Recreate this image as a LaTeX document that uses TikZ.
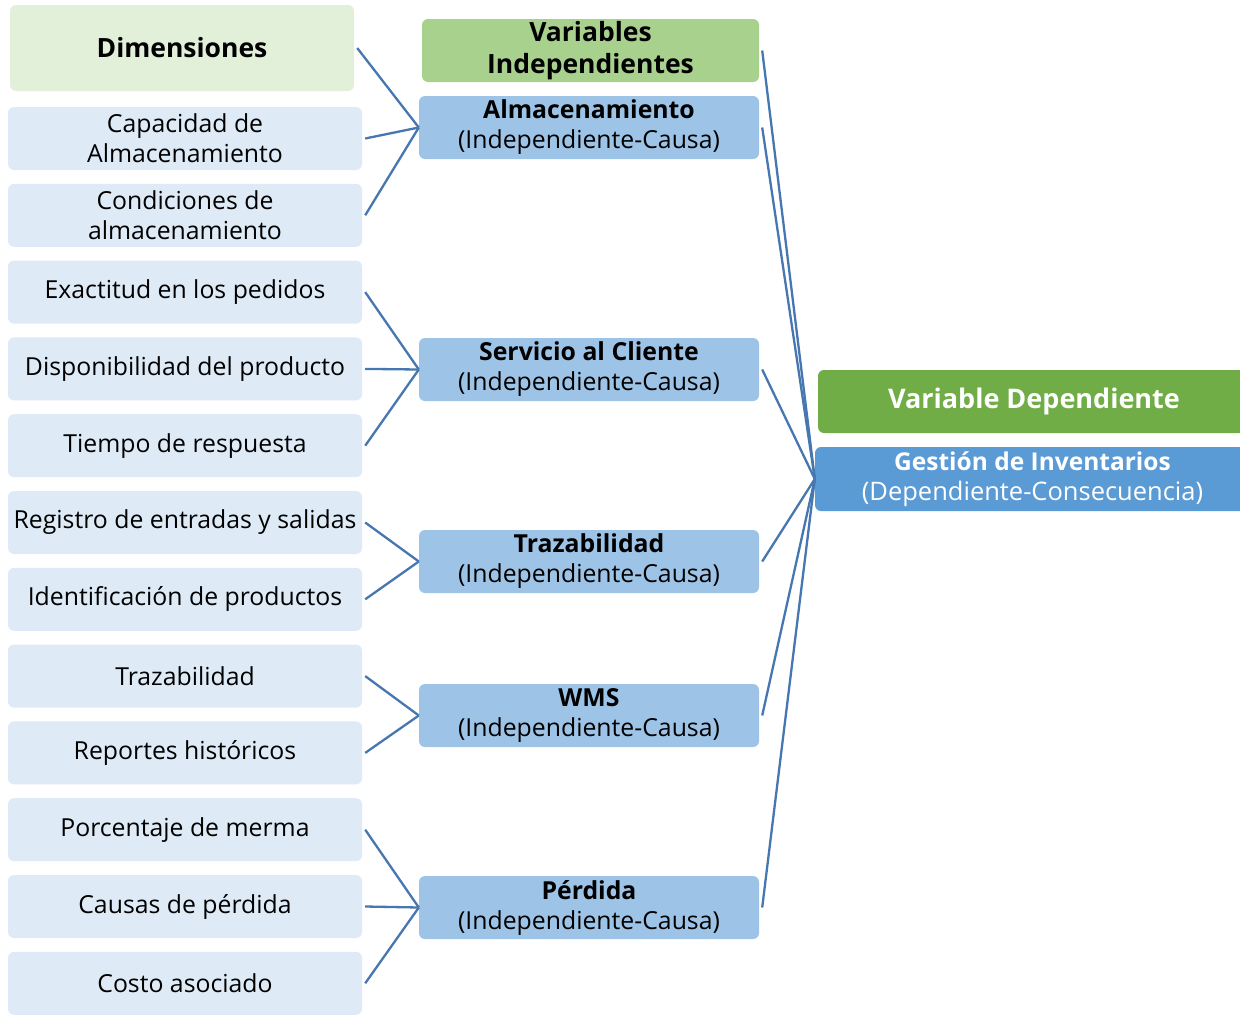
\documentclass[tikz,border=0pt]{standalone}
\usepackage{fontspec}
\setmainfont{Open Sans}
\definecolor{dimfill}{HTML}{DEEBF7}
\definecolor{dimhead}{HTML}{E2F0D9}
\definecolor{indfill}{HTML}{9DC3E6}
\definecolor{indhead}{HTML}{A9D18E}
\definecolor{dephead}{HTML}{70AD47}
\definecolor{depfill}{HTML}{5B9BD5}
\definecolor{link}{HTML}{4677B0}
\tikzset{
  box/.style={rounded corners=6pt, inner sep=0pt, align=center,
    font=\fontsize{24.8}{30}\selectfont},
  dimbox/.style={box, fill=dimfill, minimum width=354pt, minimum height=63pt},
  indbox/.style={box, fill=indfill, minimum width=340pt, minimum height=63pt},
  conn/.style={draw=link, line width=2.3pt}
}
\begin{document}
\begin{tikzpicture}[x=1pt,y=-1pt]
\clip (0,0) rectangle (1240,1015);
\fill[white] (0,0) rectangle (1240,1015);

% column of dimensions
\node[box, fill=dimhead, minimum width=344pt, minimum height=86pt, font=\fontsize{26.5}{30}\selectfont\bfseries] (dh) at (182,48) {Dimensiones};
\node[dimbox] (d1) at (185,138.5) {Capacidad de\\Almacenamiento};
\node[dimbox] (d2) at (185,215.3) {Condiciones de\\almacenamiento};
\node[dimbox] (d3) at (185,292.1) {Exactitud en los pedidos};
\node[dimbox] (d4) at (185,368.9) {Disponibilidad del producto};
\node[dimbox] (d5) at (185,445.7) {Tiempo de respuesta};
\node[dimbox] (d6) at (185,522.5) {Registro de entradas y salidas};
\node[dimbox] (d7) at (185,599.3) {Identificación de productos};
\node[dimbox] (d8) at (185,676.1) {Trazabilidad};
\node[dimbox] (d9) at (185,752.9) {Reportes históricos};
\node[dimbox] (d10) at (185,829.7) {Porcentaje de merma};
\node[dimbox] (d11) at (185,906.5) {Causas de pérdida};
\node[dimbox] (d12) at (185,983.3) {Costo asociado};

% column of independent variables
\node[box, fill=indhead, minimum width=337pt, minimum height=63pt, font=\fontsize{26.5}{32}\selectfont\bfseries] (ih) at (590.5,50.5) {Variables\\Independientes};
\node[indbox] (i1) at (589,127.5) {\textbf{Almacenamiento}\\(Independiente-Causa)};
\node[indbox] (i2) at (589,369.5) {\textbf{Servicio al Cliente}\\(Independiente-Causa)};
\node[indbox] (i3) at (589,561.5) {\textbf{Trazabilidad}\\(Independiente-Causa)};
\node[indbox] (i4) at (589,715.5) {\textbf{WMS}\\(Independiente-Causa)};
\node[indbox] (i5) at (589,907.5) {\textbf{Pérdida}\\(Independiente-Causa)};

% dependent variable
\node[box, fill=dephead, text=white, minimum width=432pt, minimum height=63pt, font=\fontsize{27}{30}\selectfont\bfseries] (dep) at (1034,401.5) {Variable Dependiente};
\node[box, fill=depfill, text=white, minimum width=435pt, minimum height=64pt, font=\fontsize{25.5}{30}\selectfont] (g) at (1032.5,479) {\textbf{\fontsize{24.5}{30}\selectfont Gestión de Inventarios}\\(Dependiente-Consecuencia)};

% dimensions to independent variables
\draw[conn] ([xshift=3pt]dh.east) -- (i1.west);
\foreach \d in {d1,d2} \draw[conn] ([xshift=3pt]\d.east) -- (i1.west);
\foreach \d in {d3,d4,d5} \draw[conn] ([xshift=3pt]\d.east) -- (i2.west);
\foreach \d in {d6,d7} \draw[conn] ([xshift=3pt]\d.east) -- (i3.west);
\foreach \d in {d8,d9} \draw[conn] ([xshift=3pt]\d.east) -- (i4.west);
\foreach \d in {d10,d11,d12} \draw[conn] ([xshift=3pt]\d.east) -- (i5.west);

% independent variables to the dependent one
\foreach \i in {ih,i1,i2,i3,i4,i5} \draw[conn] ([xshift=3pt]\i.east) -- (g.west);
\end{tikzpicture}
\end{document}
